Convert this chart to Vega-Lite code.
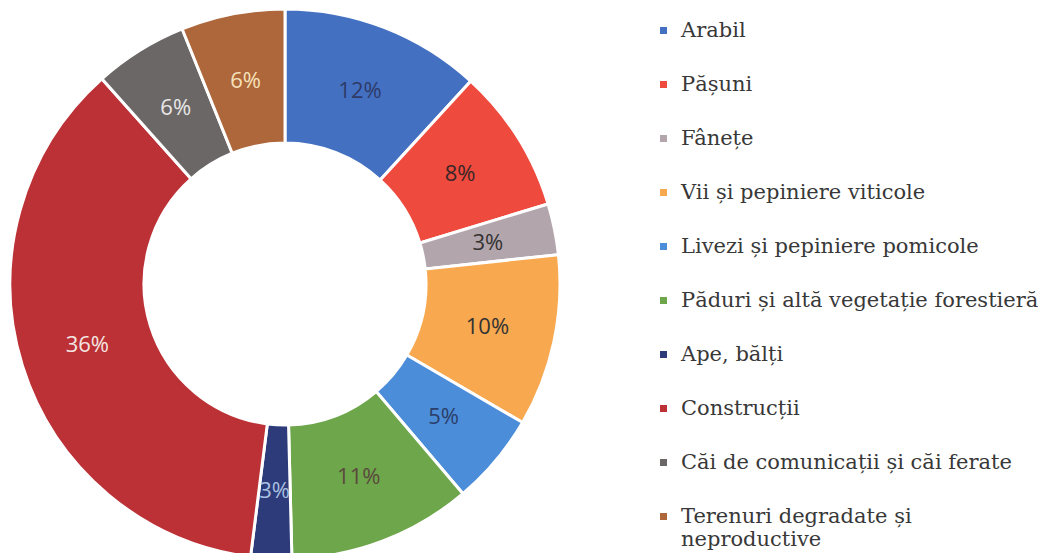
{
  "$schema": "https://vega.github.io/schema/vega-lite/v6.json",
  "autosize": {"type": "none"},
  "width": 570,
  "height": 538,
  "padding": {"left": 0, "top": 15, "right": 473, "bottom": 0},
  "background": "white",
  "data": {
    "values": [
      {"n": 1, "cat": "Arabil", "value": 11.8, "label": "12%"},
      {"n": 2, "cat": "Pășuni", "value": 8.5, "label": "8%"},
      {"n": 3, "cat": "Fânețe", "value": 3.0, "label": "3%"},
      {"n": 4, "cat": "Vii și pepiniere viticole", "value": 10.1, "label": "10%"},
      {"n": 5, "cat": "Livezi și pepiniere pomicole", "value": 5.4, "label": "5%"},
      {"n": 6, "cat": "Păduri și altă vegetație forestieră", "value": 10.8, "label": "11%"},
      {"n": 7, "cat": "Ape, bălți", "value": 2.4, "label": "3%"},
      {"n": 8, "cat": "Construcții", "value": 36.4, "label": "36%"},
      {"n": 9, "cat": "Căi de comunicații și căi ferate", "value": 5.5, "label": "6%"},
      {"n": 10, "cat": "Terenuri degradate și neproductive", "value": 6.1, "label": "6%"}
    ]
  },
  "encoding": {
    "theta": {"field": "value", "type": "quantitative", "stack": true},
    "order": {"field": "n", "type": "quantitative"}
  },
  "layer": [
    {
      "mark": {"type": "arc", "innerRadius": 141, "outerRadius": 275, "stroke": "white", "strokeWidth": 3},
      "encoding": {
        "color": {
          "field": "cat",
          "type": "nominal",
          "sort": null,
          "scale": {
            "domain": ["Arabil", "Pășuni", "Fânețe", "Vii și pepiniere viticole", "Livezi și pepiniere pomicole", "Păduri și altă vegetație forestieră", "Ape, bălți", "Construcții", "Căi de comunicații și căi ferate", "Terenuri degradate și neproductive"],
            "range": ["#4470C2", "#EE4A3E", "#B3A5AC", "#F8A84E", "#4B8DD8", "#6EA64B", "#2D3B7A", "#BB3136", "#6C6767", "#AE673A"]
          },
          "legend": {
            "title": null,
            "orient": "none",
            "legendX": 653,
            "legendY": 5,
            "padding": 0,
            "symbolType": "square",
            "symbolSize": 49,
            "symbolStrokeWidth": 0,
            "labelFont": "DejaVu Serif",
            "labelFontSize": 21,
            "labelColor": "#383838",
            "labelOffset": 7,
            "labelLimit": 420,
            "rowPadding": 32,
            "labelExpr": "datum.label == 'Terenuri degradate și neproductive' ? ['Terenuri degradate și', 'neproductive'] : datum.label"
          }
        }
      }
    },
    {
      "mark": {"type": "text", "radius": 207, "font": "Open Sans", "fontSize": 22},
      "encoding": {
        "text": {"field": "label"},
        "color": {
          "field": "cat",
          "type": "nominal",
          "legend": null,
          "scale": {
            "domain": ["Arabil", "Pășuni", "Fânețe", "Vii și pepiniere viticole", "Livezi și pepiniere pomicole", "Păduri și altă vegetație forestieră", "Ape, bălți", "Construcții", "Căi de comunicații și căi ferate", "Terenuri degradate și neproductive"],
            "range": ["#2E3B68", "#3A2626", "#333333", "#333333", "#2B3E6A", "#5A4A3C", "#A9C0E0", "#F4E6E2", "#E8E8E8", "#F6E2BA"]
          }
        }
      }
    }
  ],
  "resolve": {"scale": {"color": "independent"}},
  "config": {"view": {"stroke": null}}
}
